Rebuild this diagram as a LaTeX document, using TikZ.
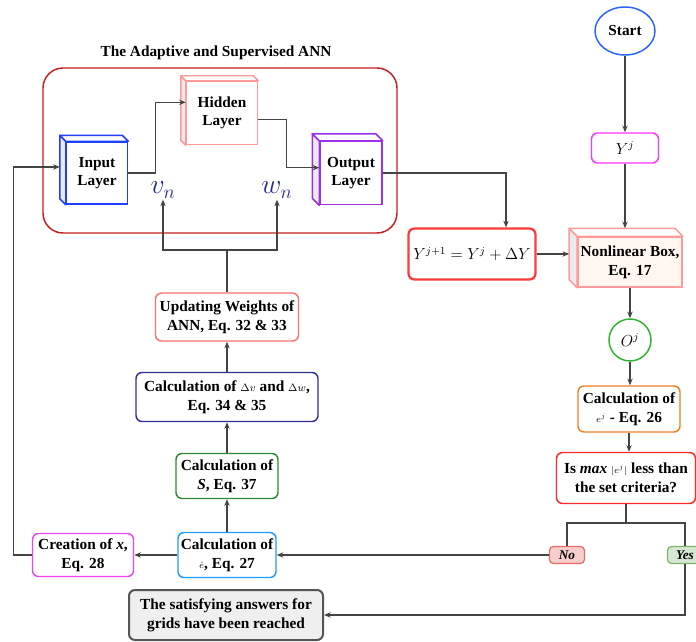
\documentclass[tikz,border=0pt]{standalone}
\usepackage{fontspec}
\setmainfont{Liberation Serif}
\usetikzlibrary{arrows.meta,shapes.geometric}

\definecolor{annred}{HTML}{C41E1E}
\definecolor{inblue}{HTML}{1F3FFF}
\definecolor{hidsalmon}{HTML}{FF9A9A}
\definecolor{outpurple}{HTML}{9B30E8}
\definecolor{ynred}{HTML}{FF3B3B}
\definecolor{nlfill}{HTML}{FFF7F0}
\definecolor{startblue}{HTML}{2962FF}
\definecolor{yjmag}{HTML}{FF33FF}
\definecolor{ojgreen}{HTML}{2DB52D}
\definecolor{ejorange}{HTML}{F07F22}
\definecolor{decred}{HTML}{FF2A2A}
\definecolor{nofill}{HTML}{F8CECC}
\definecolor{nodraw}{HTML}{EA6B66}
\definecolor{yesfill}{HTML}{D5E8D4}
\definecolor{yesdraw}{HTML}{82B366}
\definecolor{ceblue}{HTML}{1E9BFF}
\definecolor{cxmag}{HTML}{EE44EE}
\definecolor{csgreen}{HTML}{2E8B2E}
\definecolor{dvnavy}{HTML}{2E3192}
\definecolor{updred}{HTML}{FF7070}
\definecolor{satfill}{HTML}{EFEFEF}
\definecolor{satdraw}{HTML}{555555}
\definecolor{wire}{HTML}{444444}
\definecolor{vwblue}{HTML}{1F2A8C}

\tikzset{
  every node/.style={font=\fontsize{11.5}{14}\selectfont\bfseries},
  box/.style={draw, rounded corners=4.5pt, line width=1.1pt, fill=white, align=center, inner sep=2pt},
  cube/.style={draw, line width=1.1pt, fill=white, align=center, inner sep=2pt},
  tag/.style={draw, rounded corners=3pt, line width=0.9pt, inner sep=1pt,
    minimum width=26.25pt, minimum height=12.75pt, font=\fontsize{10}{12}\selectfont\bfseries\itshape},
  wt/.style={text=vwblue, inner sep=1pt, font=\fontsize{21}{21}\selectfont},
  line/.style={draw=wire, line width=0.8pt},
  arr/.style={line, -{Stealth[length=5pt,width=4pt]}},
}

% back faces of a cube node: name, colour, depth
\newcommand{\cubeback}[3]{%
  \draw[#2, line width=1.1pt, fill=black!8, line join=round]
    (#1.north west) -- ([shift={(-#3,-#3)}]#1.north west)
    -- ([shift={(-#3,-#3)}]#1.south west) -- (#1.south west) -- cycle;
  \draw[#2, line width=1.1pt, fill=white, line join=round]
    (#1.north west) -- ([shift={(-#3,-#3)}]#1.north west)
    -- ([shift={(-#3,-#3)}]#1.north east) -- (#1.north east) -- cycle;
  \coordinate (#1-top) at ([shift={(-#3,-#3)}]#1.north);
  \coordinate (#1-back) at ([shift={(-#3,-#3)}]#1.west);
}

\begin{document}
\begin{tikzpicture}[x=0.75pt,y=-0.75pt]
\useasboundingbox (0,0) rectangle (696,642);

% the ANN block
\node (ttl) at (216,53) {The Adaptive and Supervised ANN};
\node [draw=annred, line width=1.1pt, rounded corners=15pt, minimum width=265.5pt, minimum height=123.75pt] (ann) at (220,150.5) {};

\node [cube, draw=inblue, minimum width=45.75pt, minimum height=46.5pt] (inp) at (97,173) {Input\\Layer};
\cubeback{inp}{inblue}{6}
\node [cube, draw=hidsalmon, minimum width=53.25pt, minimum height=47.25pt] (hid) at (222,113) {Hidden\\Layer};
\cubeback{hid}{hidsalmon}{5}
\node [cube, draw=outpurple, minimum width=46.5pt, minimum height=47.25pt] (out) at (351,173) {Output\\Layer};
\cubeback{out}{outpurple}{7}

\node [wt] (vn) at (163,190) {$v_n$};
\node [wt] (wn) at (277,190) {$w_n$};

% right column
\node [draw=startblue, ellipse, line width=1.1pt, minimum width=45pt, minimum height=36pt] (start) at (625,31) {Start};
\node [box, draw=yjmag, minimum width=50.25pt, minimum height=22.5pt] (yj) at (625,148) {$Y^{j}$};
\node [box, draw=ynred, line width=1.7pt, minimum width=95.25pt, minimum height=38.25pt] (ynx) at (472,254) {$Y^{j+1}=Y^{j}+\Delta Y$};
\node [cube, draw=hidsalmon, fill=nlfill, minimum width=77.25pt, minimum height=37.5pt] (nl) at (630,262) {Nonlinear Box,\\Eq. 17};
\cubeback{nl}{hidsalmon}{8}
\node [draw=ojgreen, circle, line width=1.1pt, minimum size=31.5pt, inner sep=0pt] (oj) at (630,340) {$O^{j}$};
\node [box, draw=ejorange, minimum width=76.5pt, minimum height=34.5pt] (cej) at (629,409) {Calculation of\\{\scriptsize$e^{j}$} - Eq. 26};
\node [box, draw=decred, minimum width=104.25pt, minimum height=38.25pt] (dec) at (626,478) {Is \textit{max} {\scriptsize$|e^{j}|$} less than\\the set criteria?};
\node [tag, draw=nodraw, fill=nofill] (no) at (567,555) {No};
\node [tag, draw=yesdraw, fill=yesfill] (yes) at (685,555) {Yes};

% left column
\node [box, draw=ceblue, minimum width=73.5pt, minimum height=33.75pt] (ce) at (227,555) {Calculation of\\{\scriptsize$\dot{e}$}, Eq. 27};
\node [box, draw=cxmag, minimum width=75.75pt, minimum height=32.25pt] (cx) at (83,555) {Creation of \textit{x},\\Eq. 28};
\node [box, draw=csgreen, minimum width=76.5pt, minimum height=33.75pt] (cs) at (227,476) {Calculation of\\\textit{S}, Eq. 37};
\node [box, draw=dvnavy, minimum width=136.5pt, minimum height=36.75pt] (cdv) at (227,397) {Calculation of {\footnotesize$\Delta v$} and {\footnotesize$\Delta w$},\\Eq. 34 \& 35};
\node [box, draw=updred, minimum width=107.25pt, minimum height=36pt] (upd) at (227,317) {Updating Weights of\\ANN, Eq. 32 \& 33};
\node [box, draw=satdraw, fill=satfill, line width=1.5pt, minimum width=145.5pt, minimum height=37.5pt] (sat) at (226,615) {The satisfying answers for\\grids have been reached};

\coordinate (split) at (626,523);
\coordinate (fork) at (227,250);

% connectors
\draw [arr] (inp.east) -- ++(27,0) |- ([yshift=8pt]hid.west);
\draw [arr] ([yshift=-5pt]hid.east) -- ++(28,0) |- ([yshift=4pt]out.west);
\draw [arr] (out.east) -| ([xshift=25.5pt]ynx.north);
\draw [arr] (ynx.east) -- (nl-back);
\draw [arr] (start) -- (yj);
\draw [arr] (yj.south) -- (yj.south |- nl-top);
\draw [arr] (nl.south) -- (nl.south |- oj.north);
\draw [arr] (oj.south) -- (oj.south |- cej.north);
\draw [arr] (cej.south) -- (cej.south |- dec.north);
\draw [line] (dec.south) -- (split) -| (no.north);
\draw [line] (split) -| (yes.north);
\draw [arr] (no.west) -- (ce.east);
\draw [arr] (yes.south) |- (sat.east);
\draw [arr] (ce.west) -- (cx.east);
\draw [arr] (cx.west) -- ++(-18,0) |- (inp-back);
\draw [arr] (ce) -- (cs);
\draw [arr] (cs) -- (cdv);
\draw [arr] (cdv) -- (upd);
\draw [line] (upd.north) -- (fork);
\draw [arr] (fork) -| (vn.south);
\draw [arr] (fork) -| (wn.south);
\end{tikzpicture}
\end{document}
